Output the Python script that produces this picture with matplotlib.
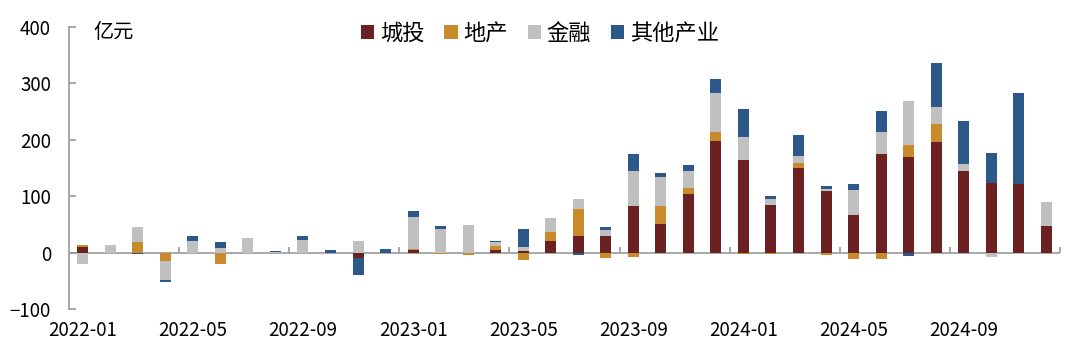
import numpy as np
import matplotlib
matplotlib.use('Agg')
import matplotlib.pyplot as plt

plt.rcParams['font.family'] = ['Noto Sans CJK SC', 'DejaVu Sans']
plt.rcParams['axes.unicode_minus'] = True

# 月份 2022-01 ~ 2024-12
months = [f'{y}-{m:02d}' for y in (2022, 2023, 2024) for m in range(1, 13)]

# 各类别净融资（亿元）
chengtou = [10, 0, 0, 0, 0, 0, 0, 0, 0, 0, -9, 0,
            4, 0, 0, 4, 2, 20, 29, 29, 83, 50, 104, 198,
            164, 85, 150, 109, 67, 174, 170, 195, 144, 123, 121, 47]
dichan = [4, 0, 19, -15, 0, -21, 0, 0, 0, 0, 0, 0,
          3, -2, -5, 7, -13, 16, 48, -10, -8, 32, 11, 16,
          -3, -2, 9, -5, -11, -12, 20, 33, 0, 0, 0, 0]
jinrong = [-20, 13, 26, -33, 20, 8, 26, 1, 23, 0, 21, -1,
           56, 42, 49, 7, 7, 25, 17, 11, 61, 51, 30, 68,
           40, 9, 12, 3, 44, 39, 78, 30, 12, -8, -2, 42]
qita = [0, 0, -3, -4, 10, 10, 0, 2, 7, 5, -31, 6,
        10, 5, 0, 3, 32, 0, -4, 6, 31, 7, 10, 25,
        51, 7, 37, 6, 10, 38, -7, 77, 77, 54, 161, 0]

names = ['城投', '地产', '金融', '其他产业']
colors = ['#6B2121', '#C98A2B', '#C0C0C0', '#2C588A']
grey = '#9A9A9A'

fig = plt.figure(figsize=(10.8, 3.53), dpi=100)
ax = fig.add_axes([69 / 1080, 44 / 353, 991 / 1080, 282.3 / 353])

x = np.arange(len(months))
pos_bottom = np.zeros(len(months))
neg_bottom = np.zeros(len(months))
for vals, color, name in zip([chengtou, dichan, jinrong, qita], colors, names):
    v = np.array(vals, dtype=float)
    bottom = np.where(v >= 0, pos_bottom, neg_bottom)
    ax.bar(x, v, 0.4, bottom=bottom, color=color, label=name, linewidth=0)
    pos_bottom += np.clip(v, 0, None)
    neg_bottom += np.clip(v, None, 0)

ax.set_xlim(-0.5, len(months) - 0.5)
ax.set_ylim(-100, 400)
ax.set_yticks(range(-100, 401, 100))

# 横轴在0处
ax.axhline(0, color=grey, lw=1.2, zorder=0.5)
ax.vlines(np.arange(3.5, len(months), 4), 0, 10, color=grey, lw=1.2, clip_on=False)

for s in ['top', 'right', 'bottom']:
    ax.spines[s].set_visible(False)
ax.spines['left'].set_color(grey)
ax.spines['left'].set_linewidth(1.2)

ax.tick_params(axis='y', direction='in', length=5, color=grey, width=1.2,
               labelsize=13.5, pad=13)
ax.set_xticks(x[::4])
ax.set_xticklabels([months[i] for i in x[::4]])
ax.tick_params(axis='x', length=0, labelsize=13.5, pad=8)

ax.text(0.025, 0.981, '亿元', transform=ax.transAxes, fontsize=14.5,
        va='center', ha='left')

fig.legend(loc='center', bbox_to_anchor=(0.5, 0.9065), ncol=4, frameon=False,
           fontsize=16, handlelength=0.6, handleheight=0.6, handletextpad=0.25,
           columnspacing=0.9)

fig.savefig('out.png', dpi=100)
